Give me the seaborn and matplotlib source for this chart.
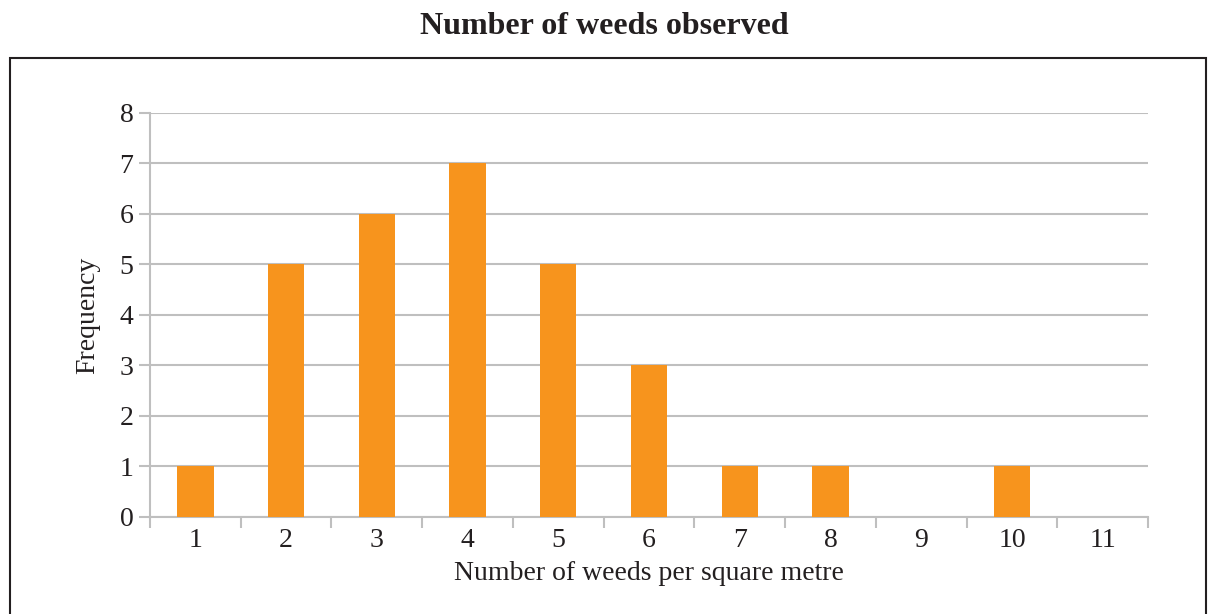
import matplotlib
matplotlib.use("Agg")
import matplotlib.pyplot as plt
import pandas as pd
import seaborn as sns
from matplotlib.patches import Rectangle

# data
weeds = ["1", "2", "3", "4", "5", "6", "7", "8", "9", "10", "11"]
frequency = [1, 5, 6, 7, 5, 3, 1, 1, 0, 1, 0]
y_ticks = [0, 1, 2, 3, 4, 5, 6, 7, 8]

df = pd.DataFrame({"weeds": weeds, "frequency": frequency})

sns.set_style("white")
plt.rcParams["font.family"] = ["Liberation Serif", "DejaVu Serif"]

grid_col = "#BFBFBF"
bar_col = "#F7941D"
text_col = "#231F20"

fig = plt.figure(figsize=(12.08, 6.14), dpi=100)
ax = fig.add_axes([0.1242, 0.158, 0.8262, 0.658])

sns.barplot(data=df, x="weeds", y="frequency", color=bar_col,
            width=0.4, saturation=1, linewidth=0, ax=ax, zorder=3)

ax.set_ylim(0, 8)
ax.set_xlim(-0.5, len(weeds) - 0.5)
ax.set_yticks(y_ticks)
ax.yaxis.grid(True, color=grid_col, linewidth=1.5, zorder=0)
ax.set_axisbelow(True)

# x ticks: labels at centre, tick marks between categories
ax.set_xticks(range(len(weeds)))
ax.set_xticklabels(weeds)
ax.set_xticks([i - 0.5 for i in range(len(weeds) + 1)], minor=True)
ax.tick_params(axis="x", which="major", bottom=False, length=0,
               labelsize=20, pad=8, colors=text_col)
ax.tick_params(axis="x", which="minor", bottom=True, length=8, width=1.5,
               color=grid_col, direction="out")
ax.tick_params(axis="y", left=True, length=8, width=1.5, color=grid_col,
               labelsize=20, pad=4, labelcolor=text_col)

for side in ["top", "right"]:
    ax.spines[side].set_visible(False)
for side in ["left", "bottom"]:
    ax.spines[side].set_color(grid_col)
    ax.spines[side].set_linewidth(1.5)

ax.set_xlabel("Number of weeds per square metre", fontsize=20,
              color=text_col, labelpad=6)
ax.set_ylabel("Frequency", fontsize=20, color=text_col, labelpad=14)

# outer frame box
fig.patches.append(Rectangle((10 / 1208, -0.05), 1196 / 1208, 1.05 - 58 / 614,
                             transform=fig.transFigure, fill=False,
                             edgecolor=text_col, linewidth=1.5))

fig.text(0.5, 1 - 27 / 614, "Number of weeds observed", ha="center",
         va="center", fontsize=23, fontweight="bold", color=text_col)

fig.savefig("out.png", dpi=100)
